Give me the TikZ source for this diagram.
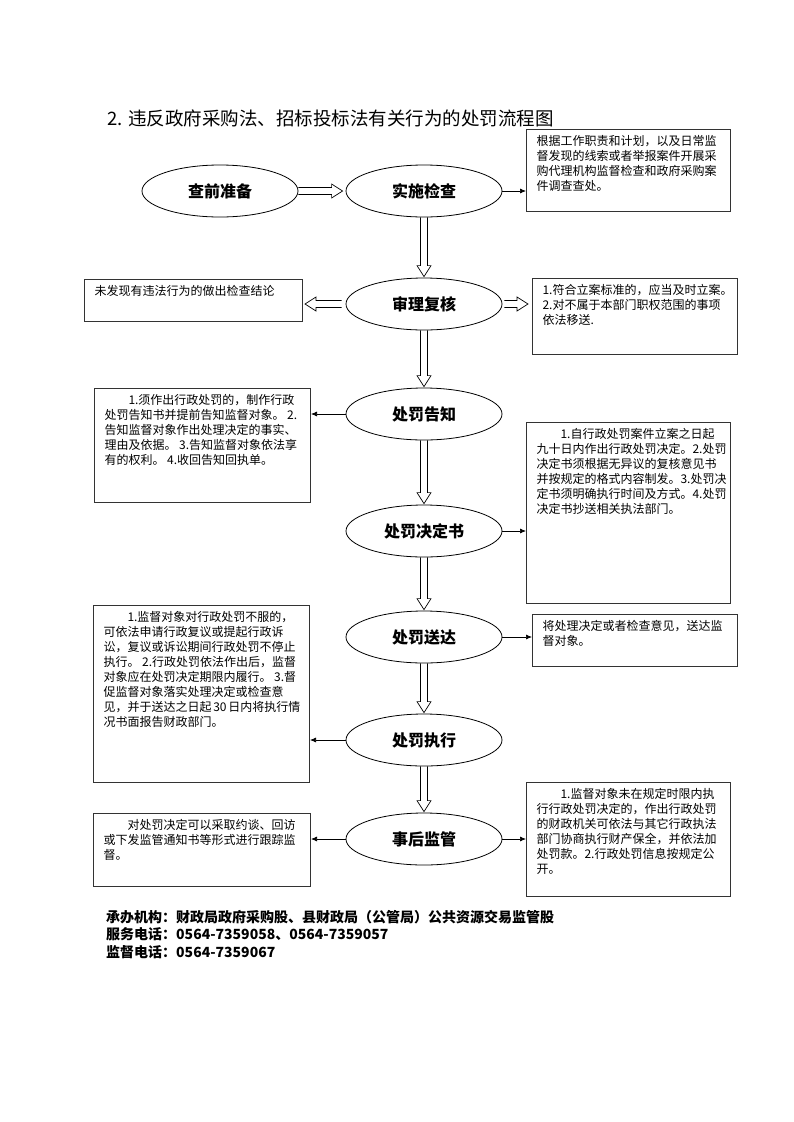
\documentclass[tikz,border=0pt]{standalone}
\usepackage{fontspec}
\setmainfont{Noto Sans CJK SC}
\usetikzlibrary{arrows.meta,shapes.geometric,calc}

% hollow block arrows: start, tip, start gap, tip gap
\newcommand\blockdown[2]{%
  \draw[block] ($(#1.south)+(-3.5,0)$) -- ($(#2.north)+(-3.5,-12)$) -- ++(-3.5,0)
    -- ($(#2.north)+(0,-1)$) -- ($(#2.north)+(7,-12)$) -- ++(-3.5,0) -- ($(#1.south)+(3.5,0)$);}
\newcommand\blockright[4]{%
  \draw[block] ($(#1)+(#3,-3.5)$) -- ($(#2)+(-#4-11,-3.5)$) -- ++(0,-3.5)
    -- ($(#2)+(-#4,0)$) -- ($(#2)+(-#4-11,7)$) -- ++(0,-3.5) -- ($(#1)+(#3,3.5)$);}
\newcommand\blockleft[4]{%
  \draw[block] ($(#1)+(-#3,-3.5)$) -- ($(#2)+(#4+11,-3.5)$) -- ++(0,-3.5)
    -- ($(#2)+(#4,0)$) -- ($(#2)+(#4+11,7)$) -- ++(0,-3.5) -- ($(#1)+(-#3,3.5)$);}

\begin{document}
\begin{tikzpicture}[x=1pt, y=-1pt,
    stage/.style={draw, ellipse, line width=0.8pt, minimum width=156pt, minimum height=52pt,
      inner sep=0pt, font=\fontsize{16}{16}\selectfont\bfseries},
    note/.style={draw=black!80, line width=1pt, anchor=north west, inner xsep=10pt, inner ysep=6pt,
      font=\fontsize{12}{15}\selectfont},
    footer/.style={anchor=west, inner sep=0pt, font=\fontsize{14}{14}\selectfont\bfseries},
    pointer/.style={-{Latex[length=6pt,width=5pt]}, line width=0.7pt},
    block/.style={line width=0.7pt, line join=miter}]
  \useasboundingbox (0,0) rectangle (794,1122);
  \fill[white] (0,0) rectangle (794,1122);

  \node[anchor=west, inner sep=0pt, font=\fontsize{18.5}{20}\selectfont] (title) at (107,118)
    {2. 违反政府采购法、招标投标法有关行为的处罚流程图};

  % stages
  \node[stage] (e1) at (220,191) {查前准备};
  \node[stage] (e2) at (424,191) {实施检查};
  \node[stage] (e3) at (424,304) {审理复核};
  \node[stage] (e4) at (424,414) {处罚告知};
  \node[stage] (e5) at (424,531) {处罚决定书};
  \node[stage] (e6) at (424,637) {处罚送达};
  \node[stage] (e7) at (424,740) {处罚执行};
  \node[stage] (e8) at (424,839) {事后监管};

  % notes
  \node[note] (b1) at (526,129) {\parbox[t][70pt][t]{184pt}{根据工作职责和计划，以及日常监\\督发现的线索或者举报案件开展采\\购代理机构监督检查和政府采购案\\件调查查处。}};
  \node[note] (bL) at (84,279) {\parbox[t][30pt][t]{198pt}{未发现有违法行为的做出检查结论}};
  \node[note] (b2) at (532,278) {\parbox[t][64pt][t]{185pt}{1.符合立案标准的，应当及时立案。\\2.对不属于本部门职权范围的事项\\依法移送.}};
  \node[note] (b3) at (94,388) {\parbox[t][102pt][t]{196pt}{\hspace*{2em}1.须作出行政处罚的，制作行政\\处罚告知书并提前告知监督对象。~2.\\告知监督对象作出处理决定的事实、\\理由及依据。~3.告知监督对象依法享\\有的权利。~4.收回告知回执单。}};
  \node[note] (b4) at (526,422) {\parbox[t][169pt][t]{184pt}{\hspace*{2em}1.自行政处罚案件立案之日起\\九十日内作出行政处罚决定。2.处罚\\决定书须根据无异议的复核意见书\\并按规定的格式内容制发。3.处罚决\\定书须明确执行时间及方式。4.处罚\\决定书抄送相关执法部门。}};
  \node[note] (b5) at (93,605) {\parbox[t][165pt][t]{196pt}{\hspace*{2em}1.监督对象对行政处罚不服的，\\可依法申请行政复议或提起行政诉\\讼，复议或诉讼期间行政处罚不停止\\执行。~2.行政处罚依法作出后，监督\\对象应在处罚决定期限内履行。~3.督\\促监督对象落实处理决定或检查意\\见，并于送达之日起~30~日内将执行情\\况书面报告财政部门。}};
  \node[note] (b6) at (532,614) {\parbox[t][40pt][t]{185pt}{将处理决定或者检查意见，送达监\\督对象。}};
  \node[note] (b7) at (93,813) {\parbox[t][61pt][t]{197pt}{\hspace*{2em}对处罚决定可以采取约谈、回访\\或下发监管通知书等形式进行跟踪监\\督。}};
  \node[note] (b8) at (526,782) {\parbox[t][102pt][t]{184pt}{\hspace*{2em}1.监督对象未在规定时限内执\\行行政处罚决定的，作出行政处罚\\的财政机关可依法与其它行政执法\\部门协商执行财产保全，并依法加\\处罚款。2.行政处罚信息按规定公\\开。}};

  % connectors
  \blockright{e1.east}{e2.west}{0}{3}
  \draw[pointer] (e2.east) -- (b1.west |- e2.east);
  \blockdown{e2}{e3}
  \blockleft{e3.west}{bL.east |- e3.west}{4}{2}
  \blockright{e3.east}{b2.west |- e3.east}{2}{4}
  \blockdown{e3}{e4}
  \draw[pointer] (e4.west) -- (b3.east |- e4.west);
  \blockdown{e4}{e5}
  \draw[pointer] (e5.east) -- (b4.west |- e5.east);
  \blockdown{e5}{e6}
  \draw[pointer] (e6.east) -- (b6.west |- e6.east);
  \blockdown{e6}{e7}
  \draw[pointer] (e7.west) -- (b5.east |- e7.west);
  \blockdown{e7}{e8}
  \draw[pointer] (e8.west) -- (b7.east |- e8.west);
  \draw[pointer] (e8.east) -- (b8.west |- e8.east);

  \node[footer] (org) at (106,917) {承办机构：财政局政府采购股、县财政局（公管局）公共资源交易监管股};
  \node[footer] (svc) at (106,934.5) {服务电话：0564-7359058、0564-7359057};
  \node[footer] (sup) at (106,952) {监督电话：0564-7359067};
\end{tikzpicture}
\end{document}
